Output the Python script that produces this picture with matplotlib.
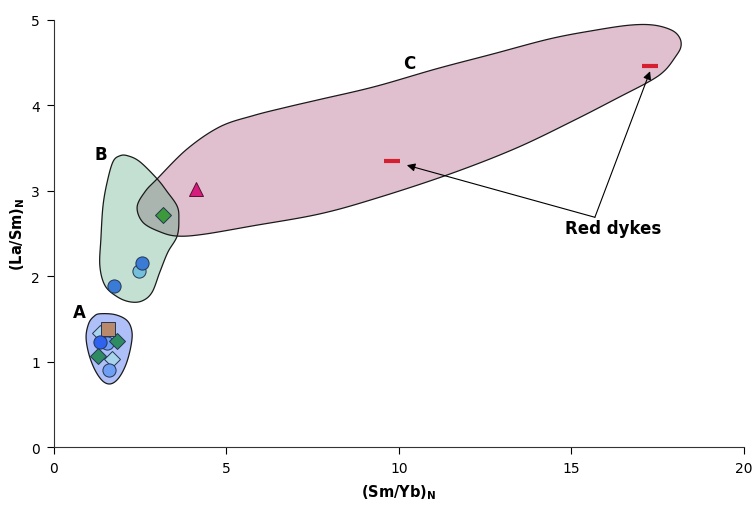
import numpy as np
import matplotlib
matplotlib.use('Agg')
import matplotlib.pyplot as plt
from matplotlib.patches import Polygon

plt.rcParams['font.family'] = 'DejaVu Sans'
plt.rcParams['mathtext.fontset'] = 'dejavusans'

# field outlines, (Sm/Yb)N vs (La/Sm)N
field_a_x = [1.33, 1.77, 2.12, 2.26, 2.23, 2.09, 1.88, 1.65, 1.42, 1.19, 1.01, 0.93, 1.01, 1.16]
field_a_y = [1.56, 1.55, 1.48, 1.35, 1.18, 0.97, 0.81, 0.74, 0.77, 0.90, 1.09, 1.29, 1.45, 1.53]

field_b_x = [1.91, 2.14, 2.49, 2.99, 3.28, 3.57, 3.62, 3.57, 3.30, 3.07, 2.84, 2.55,
             2.20, 1.83, 1.48, 1.33, 1.36, 1.42, 1.54, 1.71]
field_b_y = [3.41, 3.41, 3.34, 3.14, 2.99, 2.82, 2.67, 2.47, 2.28, 2.05, 1.81, 1.71,
             1.70, 1.76, 1.89, 2.12, 2.44, 2.82, 3.10, 3.34]

field_c_x = [2.41, 2.58, 3.07, 3.57, 4.32, 5.77, 7.71, 9.40, 11.50, 13.40, 15.10, 16.40,
             17.30, 17.71, 18.00, 18.17, 18.14, 17.91, 17.39, 16.70, 15.68, 14.38, 12.70,
             11.10, 9.30, 7.71, 6.75, 5.77, 4.81, 3.86, 2.99, 2.64]
field_c_y = [2.81, 2.63, 2.52, 2.47, 2.49, 2.59, 2.73, 2.92, 3.20, 3.50, 3.83, 4.10,
             4.29, 4.41, 4.56, 4.68, 4.79, 4.88, 4.94, 4.94, 4.88, 4.78, 4.60,
             4.43, 4.22, 4.07, 3.98, 3.88, 3.75, 3.49, 3.14, 2.99]

# samples
lt_diamond_x = [1.33, 1.69]
lt_diamond_y = [1.34, 1.03]
square_x = [1.56]
square_y = [1.38]
lt_circle_x = [1.53, 1.60]
lt_circle_y = [1.22, 0.90]
blue_circle_x = [1.33]
blue_circle_y = [1.23]
green_diamond_x = [1.82, 1.28]
green_diamond_y = [1.245, 1.07]

b_diamond_x = [3.15]
b_diamond_y = [2.72]
teal_circle_x = [2.47]
teal_circle_y = [2.06]
b_circle_x = [2.54, 1.75]
b_circle_y = [2.15, 1.89]

triangle_x = [4.12]
triangle_y = [3.02]
red_dyke_x = [9.79, 17.28]
red_dyke_y = [3.35, 4.46]


def smooth_closed(xs, ys, n=24):
    # periodic Catmull-Rom through the outline vertices
    p = np.column_stack([xs, ys])
    k = len(p)
    out = []
    t = np.linspace(0, 1, n, endpoint=False)[:, None]
    for i in range(k):
        p0, p1, p2, p3 = p[i - 1], p[i], p[(i + 1) % k], p[(i + 2) % k]
        seg = 0.5 * ((2 * p1) + (-p0 + p2) * t + (2 * p0 - 5 * p1 + 4 * p2 - p3) * t ** 2
                     + (-p0 + 3 * p1 - 3 * p2 + p3) * t ** 3)
        out.append(seg)
    return np.vstack(out)


fig = plt.figure(figsize=(7.54, 5.06), dpi=100)
ax = fig.add_axes([0.0716, 0.1146, 0.915, 0.8439])

pa = smooth_closed(field_a_x, field_a_y)
pb = smooth_closed(field_b_x, field_b_y)
pc = smooth_closed(field_c_x, field_c_y)

ax.add_patch(Polygon(pb, closed=True, fc='#C3E0D3', ec='none', zorder=1))
patch_c = Polygon(pc, closed=True, fc='#E0C0CF', ec='none', zorder=1.1)
ax.add_patch(patch_c)
overlap = Polygon(pb, closed=True, fc='#AAB5AF', ec='none', zorder=1.2)
ax.add_patch(overlap)
overlap.set_clip_path(patch_c)
ax.add_patch(Polygon(pb, closed=True, fc='none', ec='#1a1a1a', lw=0.9, zorder=1.3))
ax.add_patch(Polygon(pc, closed=True, fc='none', ec='#1a1a1a', lw=0.9, zorder=1.3))
ax.add_patch(Polygon(pa, closed=True, fc='#AFC0F8', ec='#1a1a1a', lw=0.9, zorder=1.3))

ec = '#253552'
ax.plot(lt_diamond_x, lt_diamond_y, 'D', ms=8, mfc='#A8D4EC', mec=ec, mew=0.7, ls='none', zorder=3)
ax.plot(square_x, square_y, 's', ms=10, mfc='#B8896A', mec=ec, mew=0.7, ls='none', zorder=3.1)
ax.plot(lt_circle_x, lt_circle_y, 'o', ms=9.5, mfc='#6F9EF5', mec=ec, mew=0.7, ls='none', zorder=3)
ax.plot(blue_circle_x, blue_circle_y, 'o', ms=9.5, mfc='#2F62EE', mec=ec, mew=0.7, ls='none', zorder=3.2)
ax.plot(green_diamond_x, green_diamond_y, 'D', ms=8, mfc='#2E8B62', mec=ec, mew=0.7, ls='none', zorder=3)
ax.plot(b_diamond_x, b_diamond_y, 'D', ms=8, mfc='#3C9A3C', mec=ec, mew=0.7, ls='none', zorder=3)
ax.plot(teal_circle_x, teal_circle_y, 'o', ms=9.5, mfc='#74BFD9', mec=ec, mew=0.7, ls='none', zorder=3)
ax.plot(b_circle_x, b_circle_y, 'o', ms=9.5, mfc='#3A7BD5', mec=ec, mew=0.7, ls='none', zorder=3.2)
ax.plot(triangle_x, triangle_y, '^', ms=10, mfc='#D61C7C', mec='#5a1030', mew=0.7, ls='none', zorder=3)
ax.plot(red_dyke_x, red_dyke_y, '_', ms=11, mew=3, color='#D42030', ls='none', zorder=3)

# field labels
ax.text(0.75, 1.58, 'A', fontsize=12, fontweight='bold', ha='center', va='center')
ax.text(1.36, 3.43, 'B', fontsize=12, fontweight='bold', ha='center', va='center')
ax.text(10.29, 4.50, 'C', fontsize=12, fontweight='bold', ha='center', va='center')

# red dyke callout
arrow = dict(arrowstyle='-|>', color='black', lw=0.8, mutation_scale=12, shrinkA=0, shrinkB=0)
ax.annotate('', xy=(10.23, 3.30), xytext=(15.68, 2.69), arrowprops=arrow)
ax.annotate('', xy=(17.28, 4.40), xytext=(15.68, 2.69), arrowprops=arrow)
ax.text(16.2, 2.57, 'Red dykes', fontsize=12, fontweight='bold', ha='center', va='center')

ax.set_xlim(0, 20)
ax.set_ylim(0, 5)
ax.set_xticks([0, 5, 10, 15, 20])
ax.set_yticks([0, 1, 2, 3, 4, 5])
ax.tick_params(direction='out', length=5, width=0.8, labelsize=10, pad=5)
ax.spines['top'].set_visible(False)
ax.spines['right'].set_visible(False)
for s in ('left', 'bottom'):
    ax.spines[s].set_linewidth(0.8)
    ax.spines[s].set_color('#333333')

ax.set_xlabel(r'(Sm/Yb)$_\mathbf{N}$', fontsize=10.5, fontweight='bold', labelpad=5)
ax.set_ylabel(r'(La/Sm)$_\mathbf{N}$', fontsize=10.5, fontweight='bold', labelpad=3)

fig.savefig('out.png', dpi=100)
